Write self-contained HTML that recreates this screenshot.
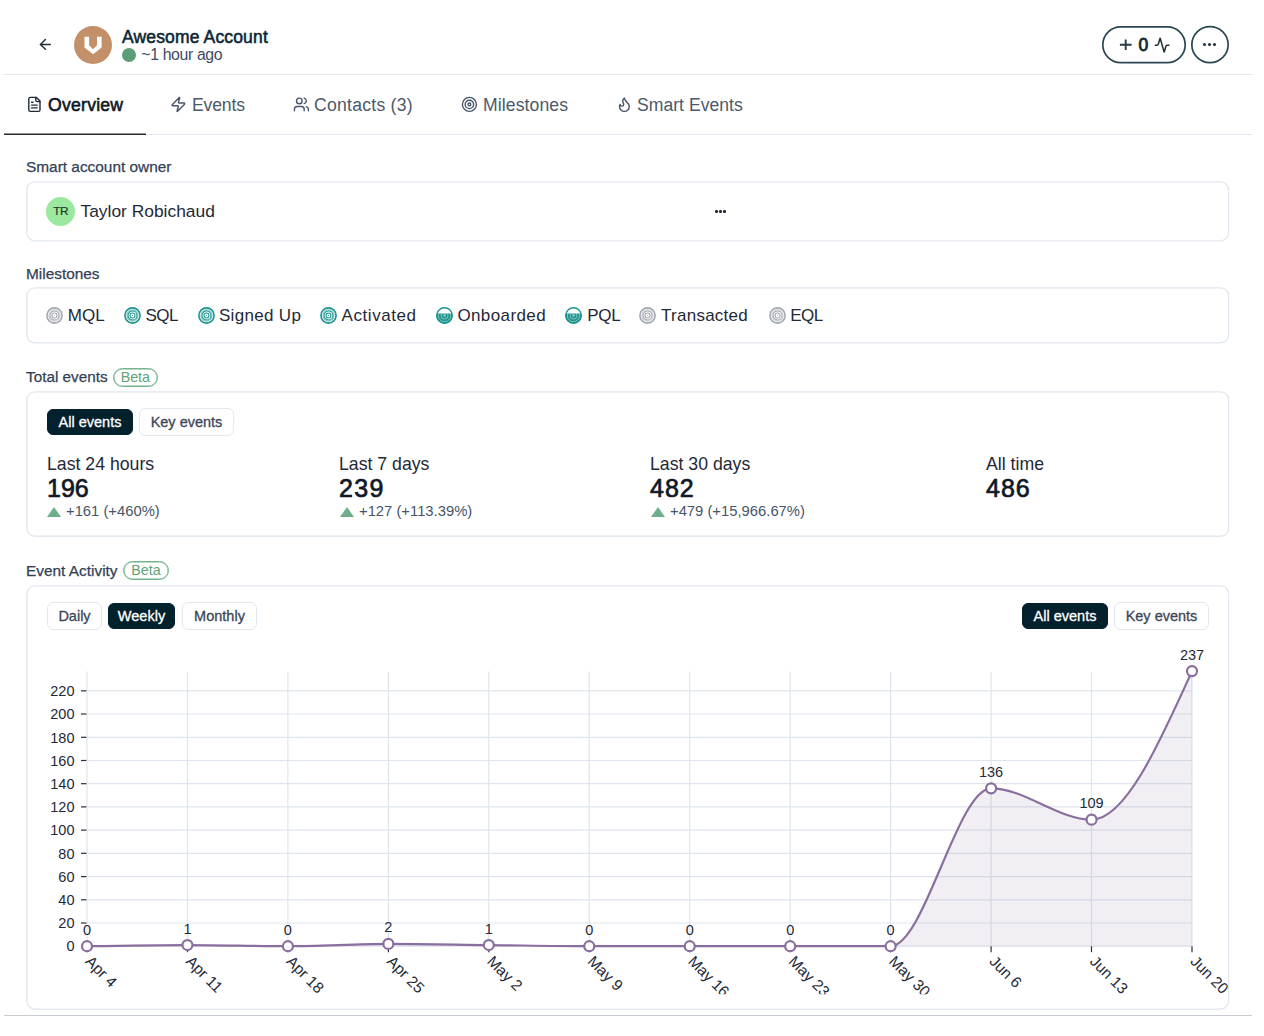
<!DOCTYPE html>
<html><head><meta charset="utf-8">
<style>
*{box-sizing:border-box;margin:0;padding:0}
html,body{width:1264px;height:1036px;overflow:hidden;background:#fff;font-family:"Liberation Sans",sans-serif;color:#111827}
.a{position:absolute;white-space:nowrap}
.hr{position:absolute;height:1px;background:#e2e8f0}
.card{position:absolute;left:26px;width:1204px}
.card svg{position:absolute;left:0;top:0;overflow:visible}
.lbl{position:absolute;left:26px;font-size:14.5px;color:#334155;font-weight:normal;-webkit-text-stroke:0.25px #334155}
.tab{position:absolute;top:95px;font-size:17.6px;letter-spacing:0.1px;color:#4d596a;display:flex;align-items:center;white-space:nowrap}
.tab svg{margin-right:6px}
.beta{position:absolute;border:1px solid #72b48c;box-shadow:inset 0 0 0 0.5px #72b48c;color:#5fa37a;border-radius:10px;font-size:14.3px;height:19px;line-height:16.5px;text-align:center;-webkit-text-stroke:0}
.btn{position:absolute;height:28px;border:1px solid #e2e8f0;border-radius:6px;font-size:14.5px;color:#3b4656;line-height:26px;text-align:center;background:#fff;-webkit-text-stroke:0.3px #3b4656}
.btn.on{margin-top:1px;height:26px;line-height:24px;background:#03202d;border-color:#03202d;color:#fff;-webkit-text-stroke:0.3px #fff}
.stl{position:absolute;font-size:17.7px;color:#1f2937}
.stv{position:absolute;font-size:25px;font-weight:normal;color:#111827;-webkit-text-stroke:0.7px #111827}
.std{position:absolute;font-size:14.8px;color:#475569}
.tri{display:inline-block;width:0;height:0;border-left:7px solid transparent;border-right:7px solid transparent;border-bottom:10px solid #6fae8a;margin-right:5px;vertical-align:-0.5px}
.ms{position:absolute;top:305.7px;font-size:17px;color:#1f2937}
.a svg{display:block}
</style></head><body>

<!-- header -->
<svg class="a" style="left:36.8px;top:36px" width="16.8" height="16.8" viewBox="0 0 24 24" fill="none" stroke="#1b2e3a" stroke-width="2.1" stroke-linecap="round" stroke-linejoin="round"><path d="m12 19-7-7 7-7"/><path d="M19 12H5"/></svg>
<svg class="a" style="left:74px;top:26px" width="38" height="38" viewBox="0 0 38 38"><circle cx="19" cy="19" r="19" fill="#c4906a"/><path d="M10.5 10.8H15.1V19.3L19.1 23.2L23 19.3V10.8H27.6V21.5L19.1 28.3L10.5 21.5Z" fill="#fff"/></svg>
<div class="a" style="left:122px;top:26.5px;font-size:17.5px;font-weight:normal;-webkit-text-stroke:0.55px #0d2633;letter-spacing:0.15px;color:#0d2633">Awesome Account</div>
<div class="a" style="left:122px;top:48px;width:14px;height:14px;border-radius:50%;background:#5c9c78"></div>
<div class="a" style="left:141.3px;top:45.8px;font-size:15.8px;letter-spacing:-0.35px;color:#3f4b5c">~1 hour ago</div>

<svg class="a" style="left:1100px;top:24px" width="132" height="42" viewBox="0 0 132 42"><rect x="2.8" y="2.8" width="82.4" height="35.9" rx="17.95" fill="none" stroke="#2b4852" stroke-width="1.7"/><ellipse cx="110" cy="20.7" rx="18.15" ry="18" fill="none" stroke="#2b4852" stroke-width="1.7"/></svg>
<svg class="a" style="left:1119px;top:38px" width="13" height="13" viewBox="0 0 13 13"><path d="M6.7 1.4V12.1M0.9 6.8H12.6" stroke="#2a3a42" stroke-width="1.9"/></svg>
<div class="a" style="left:1138.5px;top:34.5px;font-size:17.5px;color:#0f2530;-webkit-text-stroke:0.8px #0f2530">0</div>
<svg class="a" style="left:1154.1px;top:37.2px" width="16.3" height="16.3" viewBox="0 0 24 24" fill="none" stroke="#1f2d35" stroke-width="2.2" stroke-linecap="round" stroke-linejoin="round"><path d="M22 12h-2.48a2 2 0 0 0-1.93 1.46l-2.35 8.36a.25.25 0 0 1-.48 0L9.24 2.18a.25.25 0 0 0-.48 0l-2.35 8.36A2 2 0 0 1 4.49 12H2"/></svg>

<div class="a" style="left:1203px;top:43px;width:3px;height:3px;border-radius:50%;background:#1f2d35;box-shadow:5px 0 0 #1f2d35,10px 0 0 #1f2d35"></div>

<div class="hr" style="left:4px;top:74px;width:1248px"></div>

<!-- tabs -->
<svg class="a" style="left:26px;top:96.3px" width="16.8" height="16.8" viewBox="0 0 24 24" fill="none" stroke="#1e293b" stroke-width="2" stroke-linecap="round" stroke-linejoin="round"><path d="M15 2H6a2 2 0 0 0-2 2v16a2 2 0 0 0 2 2h12a2 2 0 0 0 2-2V7Z"/><path d="M14 2v4a2 2 0 0 0 2 2h4"/><path d="M10 9H8"/><path d="M16 13H8"/><path d="M16 17H8"/></svg>
<div class="tab" style="left:48px;color:#0f1724;font-size:17.6px;letter-spacing:0.25px;-webkit-text-stroke:0.6px #0f1724">Overview</div>
<svg class="a" style="left:170.1px;top:96.4px" width="16.8" height="16.8" viewBox="0 0 24 24" fill="none" stroke="#475569" stroke-width="2" stroke-linecap="round" stroke-linejoin="round"><path d="M4 14a1 1 0 0 1-.78-1.63l9.9-10.2a.5.5 0 0 1 .86.46l-1.92 6.02A1 1 0 0 0 13 10h7a1 1 0 0 1 .78 1.63l-9.9 10.2a.5.5 0 0 1-.86-.46l1.92-6.02A1 1 0 0 0 11 14z"/></svg>
<div class="tab" style="left:192px;letter-spacing:-0.15px">Events</div>
<svg class="a" style="left:292.6px;top:96.3px" width="16.8" height="16.8" viewBox="0 0 24 24" fill="none" stroke="#475569" stroke-width="2" stroke-linecap="round" stroke-linejoin="round"><path d="M16 21v-2a4 4 0 0 0-4-4H6a4 4 0 0 0-4 4v2"/><circle cx="9" cy="7" r="4"/><path d="M22 21v-2a4 4 0 0 0-3-3.87"/><path d="M16 3.13a4 4 0 0 1 0 7.75"/></svg>
<div class="tab" style="left:314px;letter-spacing:0.25px">Contacts (3)</div>
<svg class="a" style="left:460.9px;top:96.3px" width="16.8" height="16.8" viewBox="0 0 24 24" fill="none" stroke="#475569" stroke-width="2" stroke-linecap="round" stroke-linejoin="round"><circle cx="12" cy="12" r="10"/><circle cx="12" cy="12" r="6"/><circle cx="12" cy="12" r="2"/></svg>
<div class="tab" style="left:483px">Milestones</div>
<svg class="a" style="left:616px;top:96.3px" width="16.8" height="16.8" viewBox="0 0 24 24" fill="none" stroke="#475569" stroke-width="2" stroke-linecap="round" stroke-linejoin="round"><path d="M12 3q1 4 4 6.5t3 5.5a1 1 0 0 1-14 0 5 5 0 0 1 1-3 1 1 0 0 0 5 0c0-2-1.5-3-1.5-5q0-2 2.5-4"/></svg>
<div class="tab" style="left:637px;letter-spacing:0.02px">Smart Events</div>
<svg class="a" style="left:4px;top:132px" width="142" height="4"><line x1="0" y1="2.2" x2="142" y2="2.2" stroke="#25282d" stroke-width="1.6"/></svg>
<div class="hr" style="left:146px;top:134px;width:1106px"></div>

<!-- Smart account owner -->
<div class="lbl" style="top:158px;font-size:15.4px">Smart account owner</div>
<div class="card" style="top:182.0px;height:59.0px"><svg width="1204" height="59.0"><rect x="0.9" y="-0.1" width="1201.7" height="58.9" rx="8" fill="#fff" stroke="#e2e8f0" stroke-width="1.35"/></svg></div>
<div class="a" style="left:46px;top:197px;width:29px;height:29px;border-radius:50%;background:#9de8a1;font-size:11.8px;color:#1d3526;text-align:center;line-height:29.5px;letter-spacing:-0.4px;text-indent:0.4px;-webkit-text-stroke:0.2px #1d3526">TR</div>
<div class="a" style="left:80.5px;top:201px;font-size:17.4px;color:#1f2937">Taylor Robichaud</div>
<div class="a" style="left:715px;top:210px;width:2.5px;height:2.5px;border-radius:50%;background:#1f2937;box-shadow:4px 0 0 #1f2937,8px 0 0 #1f2937"></div>

<!-- Milestones -->
<div class="lbl" style="top:265px;font-size:15.4px">Milestones</div>
<div class="card" style="top:288.0px;height:55.0px"><svg width="1204" height="55.0"><rect x="0.9" y="-0.1" width="1201.7" height="55.0" rx="8" fill="#fff" stroke="#e2e8f0" stroke-width="1.35"/></svg></div>
<div class="a" style="left:46.2px;top:306.8px"><svg width="17" height="17" viewBox="0 0 17 17"><circle cx="8.5" cy="8.5" r="7.6" fill="none" stroke="#a4a9b1" stroke-width="1.6"/><circle cx="8.5" cy="8.5" r="5.6" fill="none" stroke="#a4a9b1" stroke-width="1.1" stroke-opacity="0.55"/><circle cx="8.5" cy="8.5" r="4.5" fill="none" stroke="#a4a9b1" stroke-width="1.1"/><circle cx="8.5" cy="8.5" r="2.5" fill="none" stroke="#a4a9b1" stroke-width="1.1"/><circle cx="8.5" cy="8.5" r="0.6" fill="#a4a9b1"/></svg></div><div class="a ms" style="left:67.8px;letter-spacing:0px">MQL</div>
<div class="a" style="left:123.6px;top:306.8px"><svg width="17" height="17" viewBox="0 0 17 17"><circle cx="8.5" cy="8.5" r="7.6" fill="none" stroke="#1f958f" stroke-width="1.6"/><circle cx="8.5" cy="8.5" r="5.6" fill="none" stroke="#1f958f" stroke-width="1.1" stroke-opacity="0.55"/><circle cx="8.5" cy="8.5" r="4.5" fill="none" stroke="#1f958f" stroke-width="1.1"/><circle cx="8.5" cy="8.5" r="2.5" fill="none" stroke="#1f958f" stroke-width="1.1"/><circle cx="8.5" cy="8.5" r="0.6" fill="#1f958f"/></svg></div><div class="a ms" style="left:145.4px;letter-spacing:-0.5px">SQL</div>
<div class="a" style="left:197.5px;top:306.8px"><svg width="17" height="17" viewBox="0 0 17 17"><circle cx="8.5" cy="8.5" r="7.6" fill="none" stroke="#1f958f" stroke-width="1.6"/><circle cx="8.5" cy="8.5" r="5.6" fill="none" stroke="#1f958f" stroke-width="1.1" stroke-opacity="0.55"/><circle cx="8.5" cy="8.5" r="4.5" fill="none" stroke="#1f958f" stroke-width="1.1"/><circle cx="8.5" cy="8.5" r="2.5" fill="none" stroke="#1f958f" stroke-width="1.1"/><circle cx="8.5" cy="8.5" r="0.6" fill="#1f958f"/></svg></div><div class="a ms" style="left:218.9px;letter-spacing:0.33px">Signed Up</div>
<div class="a" style="left:319.8px;top:306.8px"><svg width="17" height="17" viewBox="0 0 17 17"><circle cx="8.5" cy="8.5" r="7.6" fill="none" stroke="#1f958f" stroke-width="1.6"/><circle cx="8.5" cy="8.5" r="5.6" fill="none" stroke="#1f958f" stroke-width="1.1" stroke-opacity="0.55"/><circle cx="8.5" cy="8.5" r="4.5" fill="none" stroke="#1f958f" stroke-width="1.1"/><circle cx="8.5" cy="8.5" r="2.5" fill="none" stroke="#1f958f" stroke-width="1.1"/><circle cx="8.5" cy="8.5" r="0.6" fill="#1f958f"/></svg></div><div class="a ms" style="left:341.6px;letter-spacing:0.55px">Activated</div>
<div class="a" style="left:435.6px;top:306.8px"><svg width="17" height="17" viewBox="0 0 17 17"><defs><clipPath id="chalf1"><rect x="0" y="6.5" width="17" height="11"/></clipPath></defs><circle cx="8.5" cy="8.5" r="7.7" fill="none" stroke="#1f958f" stroke-width="1.4"/><g clip-path="url(#chalf1)"><circle cx="8.5" cy="8.5" r="8.2" fill="#1f958f"/><circle cx="8.5" cy="8.5" r="6.2" fill="none" stroke="#fff" stroke-width="0.9" stroke-opacity="0.45"/><circle cx="8.5" cy="8.5" r="3.5" fill="none" stroke="#fff" stroke-width="1" stroke-opacity="0.45"/><circle cx="8.5" cy="8.5" r="1.4" fill="#fff" fill-opacity="0.45"/></g></svg></div><div class="a ms" style="left:457.4px;letter-spacing:0.4px">Onboarded</div>
<div class="a" style="left:565.1px;top:306.8px"><svg width="17" height="17" viewBox="0 0 17 17"><defs><clipPath id="chalf2"><rect x="0" y="6.5" width="17" height="11"/></clipPath></defs><circle cx="8.5" cy="8.5" r="7.7" fill="none" stroke="#1f958f" stroke-width="1.4"/><g clip-path="url(#chalf2)"><circle cx="8.5" cy="8.5" r="8.2" fill="#1f958f"/><circle cx="8.5" cy="8.5" r="6.2" fill="none" stroke="#fff" stroke-width="0.9" stroke-opacity="0.45"/><circle cx="8.5" cy="8.5" r="3.5" fill="none" stroke="#fff" stroke-width="1" stroke-opacity="0.45"/><circle cx="8.5" cy="8.5" r="1.4" fill="#fff" fill-opacity="0.45"/></g></svg></div><div class="a ms" style="left:587.2px;letter-spacing:-0.3px">PQL</div>
<div class="a" style="left:638.8px;top:306.8px"><svg width="17" height="17" viewBox="0 0 17 17"><circle cx="8.5" cy="8.5" r="7.6" fill="none" stroke="#a4a9b1" stroke-width="1.6"/><circle cx="8.5" cy="8.5" r="5.6" fill="none" stroke="#a4a9b1" stroke-width="1.1" stroke-opacity="0.55"/><circle cx="8.5" cy="8.5" r="4.5" fill="none" stroke="#a4a9b1" stroke-width="1.1"/><circle cx="8.5" cy="8.5" r="2.5" fill="none" stroke="#a4a9b1" stroke-width="1.1"/><circle cx="8.5" cy="8.5" r="0.6" fill="#a4a9b1"/></svg></div><div class="a ms" style="left:661.1px;letter-spacing:0.25px">Transacted</div>
<div class="a" style="left:768.8px;top:306.8px"><svg width="17" height="17" viewBox="0 0 17 17"><circle cx="8.5" cy="8.5" r="7.6" fill="none" stroke="#a4a9b1" stroke-width="1.6"/><circle cx="8.5" cy="8.5" r="5.6" fill="none" stroke="#a4a9b1" stroke-width="1.1" stroke-opacity="0.55"/><circle cx="8.5" cy="8.5" r="4.5" fill="none" stroke="#a4a9b1" stroke-width="1.1"/><circle cx="8.5" cy="8.5" r="2.5" fill="none" stroke="#a4a9b1" stroke-width="1.1"/><circle cx="8.5" cy="8.5" r="0.6" fill="#a4a9b1"/></svg></div><div class="a ms" style="left:790.2px;letter-spacing:-0.5px">EQL</div>

<!-- Total events -->
<div class="lbl" style="top:368px;font-size:15.3px">Total events</div><div class="a beta" style="left:112.5px;top:367.6px;width:45.7px">Beta</div>
<div class="card" style="top:392.0px;height:145.0px"><svg width="1204" height="145.0"><rect x="0.9" y="-0.1" width="1201.7" height="144.3" rx="8" fill="#fff" stroke="#e2e8f0" stroke-width="1.35"/></svg></div>
<div class="btn on" style="left:47px;top:408px;width:86px">All events</div>
<div class="btn" style="left:139px;top:408px;width:95px">Key events</div>

<div class="stl" style="left:47px;top:454px">Last 24 hours</div>
<div class="stv" style="left:47px;top:474px">196</div>
<div class="std" style="left:47px;top:503px"><span class="tri"></span>+161 (+460%)</div>
<div class="stl" style="left:339px;top:454px">Last 7 days</div>
<div class="stv" style="left:339px;top:474px;letter-spacing:1.4px">239</div>
<div class="std" style="left:340px;top:503px"><span class="tri"></span>+127 (+113.39%)</div>
<div class="stl" style="left:650px;top:454px">Last 30 days</div>
<div class="stv" style="left:650px;top:474px;letter-spacing:1px">482</div>
<div class="std" style="left:651px;top:503px"><span class="tri"></span>+479 (+15,966.67%)</div>
<div class="stl" style="left:986px;top:454px">All time</div>
<div class="stv" style="left:986px;top:474px;letter-spacing:1px">486</div>

<!-- Event activity -->
<div class="lbl" style="top:562px;font-size:15.4px">Event Activity</div><div class="a beta" style="left:123.2px;top:561.3px;width:45.5px">Beta</div>
<div class="card" style="top:586.0px;height:424.0px"><svg width="1204" height="424.0"><rect x="0.9" y="-0.1" width="1201.7" height="423.2" rx="8" fill="#fff" stroke="#e2e8f0" stroke-width="1.35"/></svg></div>
<div class="btn" style="left:47px;top:602px;width:55px">Daily</div>
<div class="btn on" style="left:108px;top:602px;width:67px">Weekly</div>
<div class="btn" style="left:182px;top:602px;width:75px">Monthly</div>
<div class="btn on" style="left:1022px;top:602px;width:86px">All events</div>
<div class="btn" style="left:1114px;top:602px;width:95px">Key events</div>

<svg class="a" style="left:0;top:0" width="1264" height="1036">
<line x1="87" y1="946.2" x2="1192" y2="946.2" stroke="#dfe5ee" stroke-width="1.2"/>
<line x1="81" y1="946.2" x2="87" y2="946.2" stroke="#2b2f36" stroke-width="1.2"/>
<text x="74.5" y="951.4" text-anchor="end" font-size="14.5" fill="#1f2937">0</text>
<line x1="87" y1="923.0" x2="1192" y2="923.0" stroke="#dfe5ee" stroke-width="1.2"/>
<line x1="81" y1="923.0" x2="87" y2="923.0" stroke="#2b2f36" stroke-width="1.2"/>
<text x="74.5" y="928.2" text-anchor="end" font-size="14.5" fill="#1f2937">20</text>
<line x1="87" y1="899.8" x2="1192" y2="899.8" stroke="#dfe5ee" stroke-width="1.2"/>
<line x1="81" y1="899.8" x2="87" y2="899.8" stroke="#2b2f36" stroke-width="1.2"/>
<text x="74.5" y="905.0" text-anchor="end" font-size="14.5" fill="#1f2937">40</text>
<line x1="87" y1="876.6" x2="1192" y2="876.6" stroke="#dfe5ee" stroke-width="1.2"/>
<line x1="81" y1="876.6" x2="87" y2="876.6" stroke="#2b2f36" stroke-width="1.2"/>
<text x="74.5" y="881.8" text-anchor="end" font-size="14.5" fill="#1f2937">60</text>
<line x1="87" y1="853.3" x2="1192" y2="853.3" stroke="#dfe5ee" stroke-width="1.2"/>
<line x1="81" y1="853.3" x2="87" y2="853.3" stroke="#2b2f36" stroke-width="1.2"/>
<text x="74.5" y="858.5" text-anchor="end" font-size="14.5" fill="#1f2937">80</text>
<line x1="87" y1="830.1" x2="1192" y2="830.1" stroke="#dfe5ee" stroke-width="1.2"/>
<line x1="81" y1="830.1" x2="87" y2="830.1" stroke="#2b2f36" stroke-width="1.2"/>
<text x="74.5" y="835.3" text-anchor="end" font-size="14.5" fill="#1f2937">100</text>
<line x1="87" y1="806.9" x2="1192" y2="806.9" stroke="#dfe5ee" stroke-width="1.2"/>
<line x1="81" y1="806.9" x2="87" y2="806.9" stroke="#2b2f36" stroke-width="1.2"/>
<text x="74.5" y="812.1" text-anchor="end" font-size="14.5" fill="#1f2937">120</text>
<line x1="87" y1="783.7" x2="1192" y2="783.7" stroke="#dfe5ee" stroke-width="1.2"/>
<line x1="81" y1="783.7" x2="87" y2="783.7" stroke="#2b2f36" stroke-width="1.2"/>
<text x="74.5" y="788.9" text-anchor="end" font-size="14.5" fill="#1f2937">140</text>
<line x1="87" y1="760.5" x2="1192" y2="760.5" stroke="#dfe5ee" stroke-width="1.2"/>
<line x1="81" y1="760.5" x2="87" y2="760.5" stroke="#2b2f36" stroke-width="1.2"/>
<text x="74.5" y="765.7" text-anchor="end" font-size="14.5" fill="#1f2937">160</text>
<line x1="87" y1="737.3" x2="1192" y2="737.3" stroke="#dfe5ee" stroke-width="1.2"/>
<line x1="81" y1="737.3" x2="87" y2="737.3" stroke="#2b2f36" stroke-width="1.2"/>
<text x="74.5" y="742.5" text-anchor="end" font-size="14.5" fill="#1f2937">180</text>
<line x1="87" y1="714.0" x2="1192" y2="714.0" stroke="#dfe5ee" stroke-width="1.2"/>
<line x1="81" y1="714.0" x2="87" y2="714.0" stroke="#2b2f36" stroke-width="1.2"/>
<text x="74.5" y="719.2" text-anchor="end" font-size="14.5" fill="#1f2937">200</text>
<line x1="87" y1="690.8" x2="1192" y2="690.8" stroke="#dfe5ee" stroke-width="1.2"/>
<line x1="81" y1="690.8" x2="87" y2="690.8" stroke="#2b2f36" stroke-width="1.2"/>
<text x="74.5" y="696.0" text-anchor="end" font-size="14.5" fill="#1f2937">220</text>
<line x1="87.0" y1="671.5" x2="87.0" y2="946.2" stroke="#dfe5ee" stroke-width="1.2"/>
<line x1="87.0" y1="946.2" x2="87.0" y2="952.2" stroke="#2b2f36" stroke-width="1.2"/>
<line x1="187.5" y1="671.5" x2="187.5" y2="946.2" stroke="#dfe5ee" stroke-width="1.2"/>
<line x1="187.5" y1="946.2" x2="187.5" y2="952.2" stroke="#2b2f36" stroke-width="1.2"/>
<line x1="287.9" y1="671.5" x2="287.9" y2="946.2" stroke="#dfe5ee" stroke-width="1.2"/>
<line x1="287.9" y1="946.2" x2="287.9" y2="952.2" stroke="#2b2f36" stroke-width="1.2"/>
<line x1="388.4" y1="671.5" x2="388.4" y2="946.2" stroke="#dfe5ee" stroke-width="1.2"/>
<line x1="388.4" y1="946.2" x2="388.4" y2="952.2" stroke="#2b2f36" stroke-width="1.2"/>
<line x1="488.8" y1="671.5" x2="488.8" y2="946.2" stroke="#dfe5ee" stroke-width="1.2"/>
<line x1="488.8" y1="946.2" x2="488.8" y2="952.2" stroke="#2b2f36" stroke-width="1.2"/>
<line x1="589.3" y1="671.5" x2="589.3" y2="946.2" stroke="#dfe5ee" stroke-width="1.2"/>
<line x1="589.3" y1="946.2" x2="589.3" y2="952.2" stroke="#2b2f36" stroke-width="1.2"/>
<line x1="689.7" y1="671.5" x2="689.7" y2="946.2" stroke="#dfe5ee" stroke-width="1.2"/>
<line x1="689.7" y1="946.2" x2="689.7" y2="952.2" stroke="#2b2f36" stroke-width="1.2"/>
<line x1="790.2" y1="671.5" x2="790.2" y2="946.2" stroke="#dfe5ee" stroke-width="1.2"/>
<line x1="790.2" y1="946.2" x2="790.2" y2="952.2" stroke="#2b2f36" stroke-width="1.2"/>
<line x1="890.6" y1="671.5" x2="890.6" y2="946.2" stroke="#dfe5ee" stroke-width="1.2"/>
<line x1="890.6" y1="946.2" x2="890.6" y2="952.2" stroke="#2b2f36" stroke-width="1.2"/>
<line x1="991.1" y1="671.5" x2="991.1" y2="946.2" stroke="#dfe5ee" stroke-width="1.2"/>
<line x1="991.1" y1="946.2" x2="991.1" y2="952.2" stroke="#2b2f36" stroke-width="1.2"/>
<line x1="1091.5" y1="671.5" x2="1091.5" y2="946.2" stroke="#dfe5ee" stroke-width="1.2"/>
<line x1="1091.5" y1="946.2" x2="1091.5" y2="952.2" stroke="#2b2f36" stroke-width="1.2"/>
<line x1="1192.0" y1="671.5" x2="1192.0" y2="946.2" stroke="#dfe5ee" stroke-width="1.2"/>
<line x1="1192.0" y1="946.2" x2="1192.0" y2="952.2" stroke="#2b2f36" stroke-width="1.2"/>
<path d="M87.00,946.20C120.48,945.62,153.97,945.04,187.45,945.04C220.94,945.04,254.42,946.20,287.91,946.20C321.39,946.20,354.88,943.88,388.36,943.88C421.85,943.88,455.33,944.65,488.82,945.04C522.30,945.43,555.79,946.20,589.27,946.20C622.76,946.20,656.24,946.20,689.73,946.20C723.21,946.20,756.70,946.20,790.18,946.20C823.67,946.20,857.15,946.20,890.64,946.20C924.12,946.20,957.61,788.34,991.09,788.34C1024.58,788.34,1058.06,819.68,1091.55,819.68C1125.03,819.68,1158.52,745.39,1192.00,671.10L1192,946.2L87,946.2Z" fill="#8d7aa6" fill-opacity="0.12"/>
<path d="M87.00,946.20C120.48,945.62,153.97,945.04,187.45,945.04C220.94,945.04,254.42,946.20,287.91,946.20C321.39,946.20,354.88,943.88,388.36,943.88C421.85,943.88,455.33,944.65,488.82,945.04C522.30,945.43,555.79,946.20,589.27,946.20C622.76,946.20,656.24,946.20,689.73,946.20C723.21,946.20,756.70,946.20,790.18,946.20C823.67,946.20,857.15,946.20,890.64,946.20C924.12,946.20,957.61,788.34,991.09,788.34C1024.58,788.34,1058.06,819.68,1091.55,819.68C1125.03,819.68,1158.52,745.39,1192.00,671.10" fill="none" stroke="#8a6e9e" stroke-width="2.2"/>
<circle cx="87.00" cy="946.20" r="5" fill="#fff" stroke="#8a6e9e" stroke-width="2.2"/>
<text x="87.00" y="934.7" text-anchor="middle" font-size="14.5" fill="#1f2937">0</text>
<circle cx="187.45" cy="945.04" r="5" fill="#fff" stroke="#8a6e9e" stroke-width="2.2"/>
<text x="187.45" y="933.5" text-anchor="middle" font-size="14.5" fill="#1f2937">1</text>
<circle cx="287.91" cy="946.20" r="5" fill="#fff" stroke="#8a6e9e" stroke-width="2.2"/>
<text x="287.91" y="934.7" text-anchor="middle" font-size="14.5" fill="#1f2937">0</text>
<circle cx="388.36" cy="943.88" r="5" fill="#fff" stroke="#8a6e9e" stroke-width="2.2"/>
<text x="388.36" y="932.4" text-anchor="middle" font-size="14.5" fill="#1f2937">2</text>
<circle cx="488.82" cy="945.04" r="5" fill="#fff" stroke="#8a6e9e" stroke-width="2.2"/>
<text x="488.82" y="933.5" text-anchor="middle" font-size="14.5" fill="#1f2937">1</text>
<circle cx="589.27" cy="946.20" r="5" fill="#fff" stroke="#8a6e9e" stroke-width="2.2"/>
<text x="589.27" y="934.7" text-anchor="middle" font-size="14.5" fill="#1f2937">0</text>
<circle cx="689.73" cy="946.20" r="5" fill="#fff" stroke="#8a6e9e" stroke-width="2.2"/>
<text x="689.73" y="934.7" text-anchor="middle" font-size="14.5" fill="#1f2937">0</text>
<circle cx="790.18" cy="946.20" r="5" fill="#fff" stroke="#8a6e9e" stroke-width="2.2"/>
<text x="790.18" y="934.7" text-anchor="middle" font-size="14.5" fill="#1f2937">0</text>
<circle cx="890.64" cy="946.20" r="5" fill="#fff" stroke="#8a6e9e" stroke-width="2.2"/>
<text x="890.64" y="934.7" text-anchor="middle" font-size="14.5" fill="#1f2937">0</text>
<circle cx="991.09" cy="788.34" r="5" fill="#fff" stroke="#8a6e9e" stroke-width="2.2"/>
<text x="991.09" y="776.8" text-anchor="middle" font-size="14.5" fill="#1f2937">136</text>
<circle cx="1091.55" cy="819.68" r="5" fill="#fff" stroke="#8a6e9e" stroke-width="2.2"/>
<text x="1091.55" y="808.2" text-anchor="middle" font-size="14.5" fill="#1f2937">109</text>
<circle cx="1192.00" cy="671.10" r="5" fill="#fff" stroke="#8a6e9e" stroke-width="2.2"/>
<text x="1192.00" y="659.6" text-anchor="middle" font-size="14.5" fill="#1f2937">237</text>
<defs><clipPath id="xclip"><rect x="0" y="0" width="1264" height="994.3"/></clipPath></defs><g clip-path="url(#xclip)">
<text transform="translate(84.5,962.2) rotate(45)" font-size="15.4" fill="#1f2937">Apr 4</text>
<text transform="translate(185.0,962.2) rotate(45)" font-size="15.4" fill="#1f2937">Apr 11</text>
<text transform="translate(285.4,962.2) rotate(45)" font-size="15.4" fill="#1f2937">Apr 18</text>
<text transform="translate(385.9,962.2) rotate(45)" font-size="15.4" fill="#1f2937">Apr 25</text>
<text transform="translate(486.3,962.2) rotate(45)" font-size="15.4" fill="#1f2937">May 2</text>
<text transform="translate(586.8,962.2) rotate(45)" font-size="15.4" fill="#1f2937">May 9</text>
<text transform="translate(687.2,962.2) rotate(45)" font-size="15.4" fill="#1f2937">May 16</text>
<text transform="translate(787.7,962.2) rotate(45)" font-size="15.4" fill="#1f2937">May 23</text>
<text transform="translate(888.1,962.2) rotate(45)" font-size="15.4" fill="#1f2937">May 30</text>
<text transform="translate(988.6,962.2) rotate(45)" font-size="15.4" fill="#1f2937">Jun 6</text>
<text transform="translate(1089.0,962.2) rotate(45)" font-size="15.4" fill="#1f2937">Jun 13</text>
<text transform="translate(1189.5,962.2) rotate(45)" font-size="15.4" fill="#1f2937">Jun 20</text>
</g></svg>

<div class="a" style="left:4px;top:1015px;width:1248px;height:1px;background:#c9cdd2"></div>
</body></html>
